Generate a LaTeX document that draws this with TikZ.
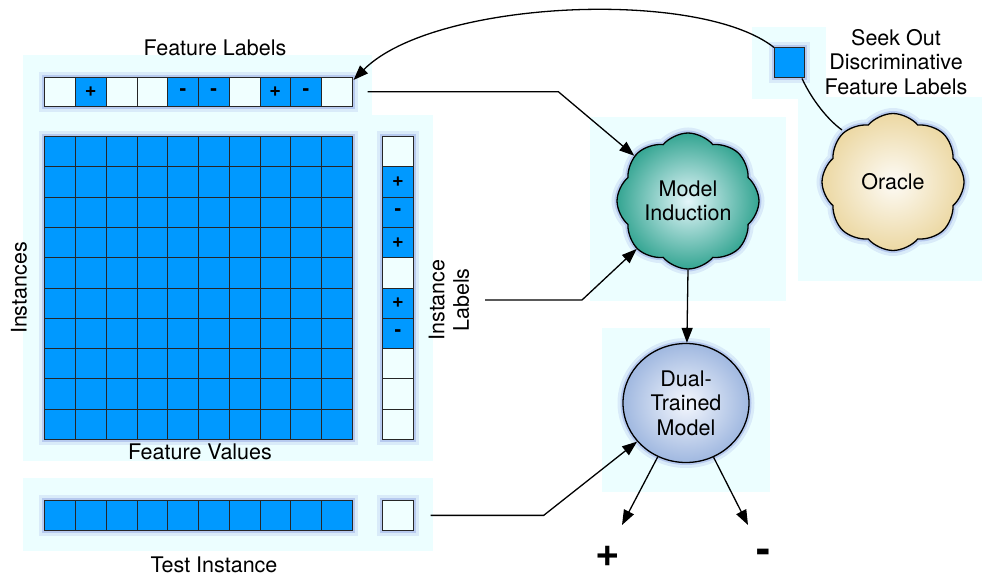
\documentclass[tikz,border=0pt]{standalone}
\usepackage{fontspec}
\setmainfont{TeX Gyre Heros}
\usetikzlibrary{arrows.meta,shapes.symbols,shapes.geometric}
\definecolor{panel}{RGB}{236,254,255}
\definecolor{cellblue}{RGB}{0,153,255}
\definecolor{cellwhite}{RGB}{240,255,255}
\definecolor{glowc}{RGB}{50,70,200}
\definecolor{teal1}{RGB}{52,165,146}
\definecolor{tealin}{RGB}{228,246,250}
\definecolor{beige}{RGB}{236,216,163}
\definecolor{beigein}{RGB}{253,251,246}
\definecolor{lav}{RGB}{160,184,224}
\definecolor{lavin}{RGB}{244,247,253}
\tikzset{
  glow/.style={preaction={draw=glowc, draw opacity=0.10, line width=11pt},
               preaction={draw=glowc, draw opacity=0.20, line width=5pt}},
  cellbox/.style={draw=black!85, line width=0.7pt, inner sep=0pt, anchor=north west,
                  font=\fontsize{20}{20}\selectfont\bfseries},
  rowbox/.style={draw=black!85, line width=0.7pt, inner sep=0pt, anchor=north west, glow},
  lbl/.style={font=\fontsize{21.5}{24.5}\selectfont, align=center, inner sep=0pt},
  bigsign/.style={font=\fontsize{42}{42}\selectfont\bfseries, inner sep=0pt},
  conn/.style={line width=1.3pt, black},
  arr/.style={conn, -{Triangle[length=15pt,width=11pt]}},
}
\begin{document}
\begin{tikzpicture}[x=1pt,y=-1pt]
\useasboundingbox (0,0) rectangle (982,577);
% panels
\fill[panel] (23,55) rectangle (372,115);
\fill[panel] (23,115) rectangle (433,461);
\fill[panel] (23,478) rectangle (433,551);
\fill[panel] (590,117) rectangle (786,301);
\fill[panel] (752,27) rectangle (826,99);
\fill[panel] (798,97) rectangle (982,281);
\fill[panel] (602,328) rectangle (770,492);

% feature labels row
\node[rowbox, minimum width=307.5pt, minimum height=29pt] (flrow) at (44.3,77) {};
\foreach \c/\s [count=\k from 0] in {cellwhite/{},cellblue/+,cellwhite/{},cellwhite/{},cellblue/-,cellblue/-,cellwhite/{},cellblue/+,cellblue/-,cellwhite/{}}
  \node[cellbox, fill=\c, minimum width=30.75pt, minimum height=29pt] (fl\k) at ({44.3+30.75*\k},77) {\s};

% matrix
\node[rowbox, minimum width=307.5pt, minimum height=303pt] (mat) at (44.3,136) {};
\foreach \r in {0,...,9}
  \foreach \c in {0,...,9}
    \node[cellbox, fill=cellblue, minimum width=30.75pt, minimum height=30.3pt] (m\r-\c) at ({44.3+30.75*\c},{136+30.3*\r}) {};

% instance labels column
\node[rowbox, minimum width=31pt, minimum height=303pt] (ilcol) at (382,136) {};
\foreach \c/\s [count=\k from 0] in {cellwhite/{},cellblue/+,cellblue/-,cellblue/+,cellwhite/{},cellblue/+,cellblue/-,cellwhite/{},cellwhite/{},cellwhite/{}}
  \node[cellbox, fill=\c, minimum width=31pt, minimum height=30.3pt] (il\k) at (382,{136+30.3*\k}) {\s};

% test instance
\node[rowbox, minimum width=307.5pt, minimum height=30pt] (trow) at (44.3,500) {};
\foreach \k in {0,...,9}
  \node[cellbox, fill=cellblue, minimum width=30.75pt, minimum height=30pt] (t\k) at ({44.3+30.75*\k},500) {};
\node[rowbox, fill=cellwhite, minimum width=31pt, minimum height=30pt] (tbox) at (382,500) {};

% texts
\node[lbl] (flt) at (215,48) {Feature Labels};
\node[lbl] (fvt) at (200,452) {Feature Values};
\node[lbl] (tit) at (214,565) {Test Instance};
\node[lbl, rotate=90] (inst) at (19,288) {Instances};
\node[lbl, rotate=90] (ilt) at (449,300) {Instance\\Labels};
\node[lbl] (seek) at (896,62) {Seek Out\\Discriminative\\Feature Labels};

% square
\node[draw=black!85, line width=1pt, fill=cellblue, minimum size=30pt, inner sep=0pt, glow] (sq) at (789.5,63) {};

% clouds and model
\node[cloud, cloud puffs=8, cloud puff arc=100, aspect=1, draw, line width=1.3pt,
      inner color=tealin, outer color=teal1, minimum width=142pt, minimum height=134pt,
      lbl, glow] (mi) at (688,201) {Model\\Induction};
\node[cloud, cloud puffs=8, cloud puff arc=100, aspect=1, draw, line width=1.3pt,
      inner color=beigein, outer color=beige, minimum width=142pt, minimum height=137pt,
      lbl, glow] (oracle) at (893,182) {Oracle};
\node[ellipse, draw, line width=1.3pt, inner color=lavin, outer color=lav,
      minimum width=126pt, minimum height=119pt, lbl, glow] (dual) at (686,403) {Dual-\\Trained\\Model};

% signs
\node[bigsign] (plus) at (608,556) {+};
\node[bigsign] (minus) at (763,556) {-};
\coordinate (pe) at (622,525);
\coordinate (me) at (748,525);

% connectors
\coordinate (fltip) at ([xshift=1pt,yshift=-3pt]flrow.north east);
\draw[arr] (sq.north west) .. controls (699,-12) and (433,0) .. (fltip);
\coordinate (oc) at (842,130);
\draw[conn] ([xshift=-3pt]sq.south east) .. controls (812,100) and (828,120) .. (oc);
\draw[arr] ([xshift=15pt]flrow.east) -- ++(191,0) -- (mi);
\coordinate (il0) at (485,300);
\draw[arr] (il0) -- ++(97,0) -- (mi);
\draw[arr] ([xshift=17pt]tbox.east) -- ++(113,0) -- (dual);
\draw[arr] (mi.south) -- (dual);
\draw[arr] (dual) -- (pe);
\draw[arr] (dual) -- (me);
\end{tikzpicture}
\end{document}
